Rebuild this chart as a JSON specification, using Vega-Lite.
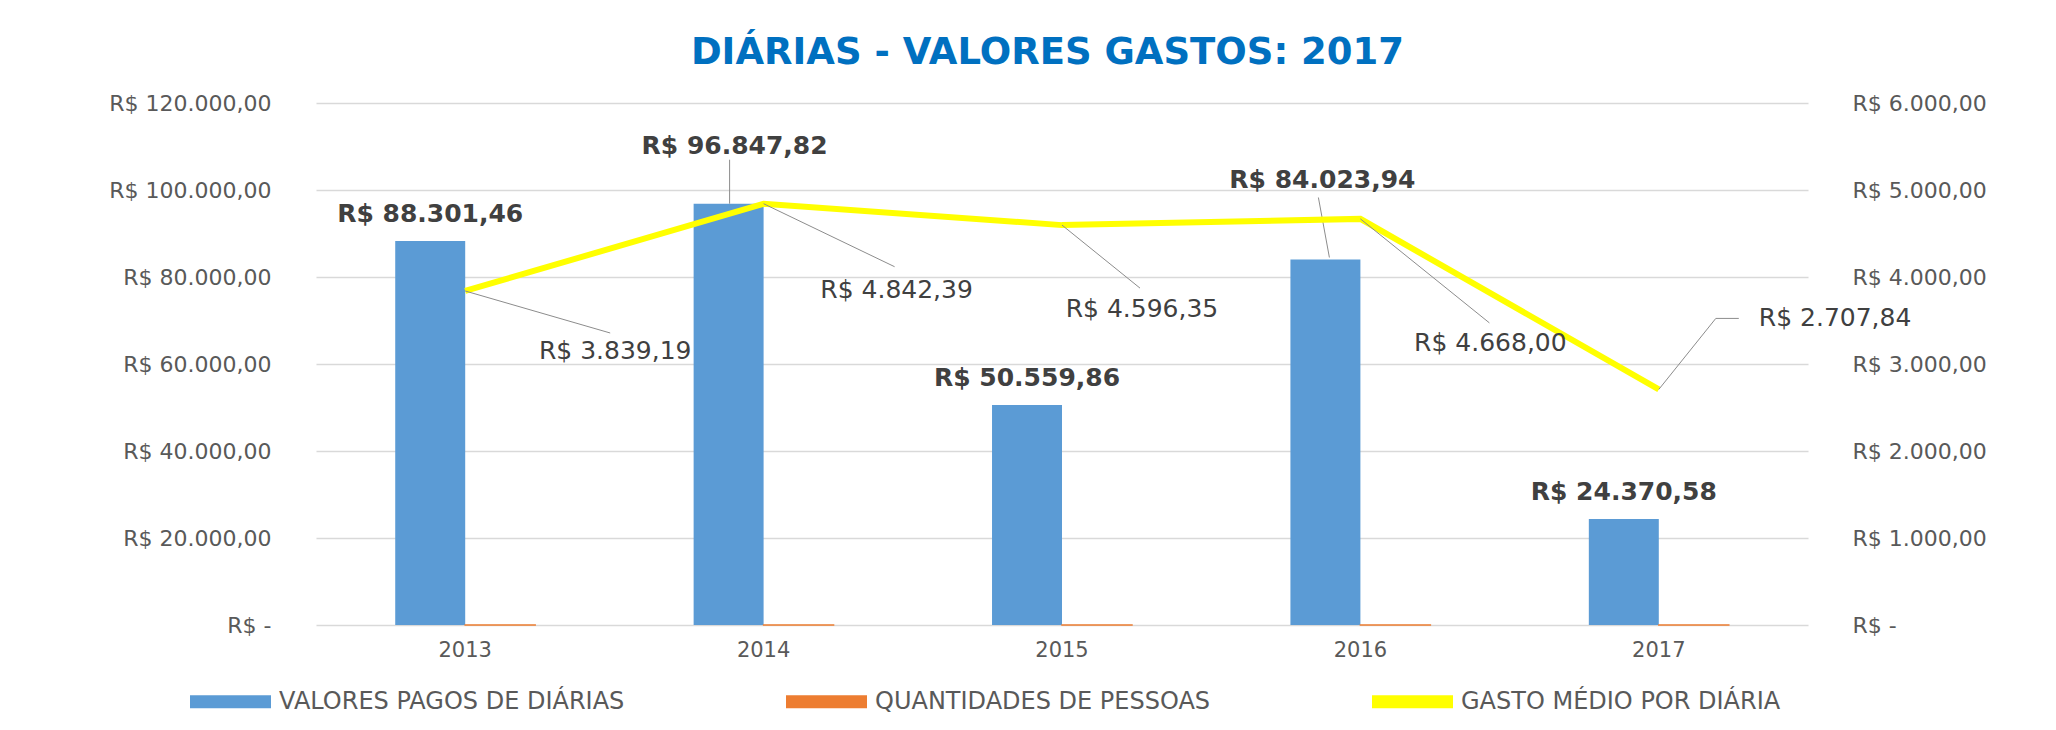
{
  "$schema": "https://vega.github.io/schema/vega-lite/v6.json",
  "width": 1492,
  "height": 522,
  "autosize": {"type": "none"},
  "padding": {"left": 316, "top": 103, "right": 248, "bottom": 105},
  "background": "white",
  "config": {
    "locale": {"number": {"decimal": ",", "thousands": ".", "grouping": [3], "currency": ["R$ ", ""]}},
    "view": {"stroke": null},
    "font": "DejaVu Sans",
    "axis": {"gridColor": "#D9D9D9", "gridWidth": 1.5, "labelColor": "#595959", "labelFontSize": 22, "labelFont": "DejaVu Sans", "ticks": false, "domain": false},
    "text": {"font": "DejaVu Sans", "color": "#404040"}
  },
  "title": {"text": "DIÁRIAS - VALORES GASTOS: 2017", "color": "#0070C0", "fontSize": 37, "font": "DejaVu Sans", "fontWeight": "bold", "anchor": "middle", "frame": "bounds", "offset": 20},
  "data": {"values": [
    {"ano": 2013, "serie": "VALORES PAGOS DE DIÁRIAS", "valor": 88301.46},
    {"ano": 2013, "serie": "QUANTIDADES DE PESSOAS", "valor": 23},
    {"ano": 2013, "serie": "GASTO MÉDIO POR DIÁRIA", "valor": 3839.19},
    {"ano": 2014, "serie": "VALORES PAGOS DE DIÁRIAS", "valor": 96847.82},
    {"ano": 2014, "serie": "QUANTIDADES DE PESSOAS", "valor": 20},
    {"ano": 2014, "serie": "GASTO MÉDIO POR DIÁRIA", "valor": 4842.39},
    {"ano": 2015, "serie": "VALORES PAGOS DE DIÁRIAS", "valor": 50559.86},
    {"ano": 2015, "serie": "QUANTIDADES DE PESSOAS", "valor": 11},
    {"ano": 2015, "serie": "GASTO MÉDIO POR DIÁRIA", "valor": 4596.35},
    {"ano": 2016, "serie": "VALORES PAGOS DE DIÁRIAS", "valor": 84023.94},
    {"ano": 2016, "serie": "QUANTIDADES DE PESSOAS", "valor": 18},
    {"ano": 2016, "serie": "GASTO MÉDIO POR DIÁRIA", "valor": 4668.00},
    {"ano": 2017, "serie": "VALORES PAGOS DE DIÁRIAS", "valor": 24370.58},
    {"ano": 2017, "serie": "QUANTIDADES DE PESSOAS", "valor": 9},
    {"ano": 2017, "serie": "GASTO MÉDIO POR DIÁRIA", "valor": 2707.84}
  ]},
  "resolve": {"scale": {"y": "independent"}},
  "layer": [
    {
      "transform": [{"filter": "datum.serie != 'GASTO MÉDIO POR DIÁRIA'"}],
      "encoding": {
        "x": {"field": "ano", "type": "nominal", "scale": {"paddingInner": 0.531, "paddingOuter": 0.2655},
              "axis": {"title": null, "labelAngle": 0, "labelPadding": 14, "grid": false, "labelFontSize": 21}},
        "y": {"field": "valor", "type": "quantitative", "scale": {"domain": [0, 120000]},
              "axis": {"title": null, "values": [0, 20000, 40000, 60000, 80000, 100000, 120000], "format": "$,.2f",
                       "labelExpr": "datum.value == 0 ? 'R$ -' : datum.label", "labelPadding": 45, "grid": true}}
      },
      "layer": [
        {
          "mark": {"type": "bar", "stroke": "#ED7D31"},
          "encoding": {
            "xOffset": {"field": "serie", "type": "nominal", "scale": {"domain": ["VALORES PAGOS DE DIÁRIAS", "QUANTIDADES DE PESSOAS"], "paddingInner": 0, "paddingOuter": 0}},
            "color": {"field": "serie", "type": "nominal",
                      "scale": {"domain": ["VALORES PAGOS DE DIÁRIAS", "QUANTIDADES DE PESSOAS", "GASTO MÉDIO POR DIÁRIA"], "range": ["#5B9BD5", "#ED7D31", "#FFFF00"]},
                      "legend": {"title": null, "orient": "none", "legendX": -126, "legendY": 558, "direction": "horizontal", "columns": 3,
                                 "symbolType": "M-1,-0.16L1,-0.16L1,0.16L-1,0.16Z", "symbolSize": 6561, "symbolStrokeWidth": 0,
                                 "labelFontSize": 24, "labelColor": "#595959", "labelFont": "DejaVu Sans", "labelOffset": 8, "columnPadding": 161, "labelLimit": 600}},
            "strokeWidth": {"condition": {"test": "datum.serie == 'QUANTIDADES DE PESSOAS'", "value": 1.5}, "value": 0}
          }
        },
        {
          "transform": [{"filter": "datum.serie == 'VALORES PAGOS DE DIÁRIAS' && (datum.ano == 2013 || datum.ano == 2015 || datum.ano == 2017)"}],
          "mark": {"type": "text", "fontSize": 25, "fontWeight": "bold", "dx": -35, "dy": -27},
          "encoding": {"text": {"field": "valor", "type": "quantitative", "format": "$,.2f"}}
        },
        {
          "transform": [{"filter": "datum.serie == 'VALORES PAGOS DE DIÁRIAS' && datum.ano == 2014"}],
          "mark": {"type": "text", "fontSize": 25, "fontWeight": "bold", "dx": -29, "dy": -58},
          "encoding": {"text": {"field": "valor", "type": "quantitative", "format": "$,.2f"}}
        },
        {
          "transform": [{"filter": "datum.serie == 'VALORES PAGOS DE DIÁRIAS' && datum.ano == 2016"}],
          "mark": {"type": "text", "fontSize": 25, "fontWeight": "bold", "dx": -38, "dy": -79},
          "encoding": {"text": {"field": "valor", "type": "quantitative", "format": "$,.2f"}}
        },
        {
          "transform": [{"filter": "datum.serie == 'VALORES PAGOS DE DIÁRIAS' && datum.ano == 2014"}],
          "mark": {"type": "rule", "color": "#8C8C8C", "strokeWidth": 1, "xOffset": -34, "yOffset": -44, "y2Offset": 0},
          "encoding": {"y2": {"field": "valor"}}
        },
        {
          "transform": [{"filter": "datum.serie == 'VALORES PAGOS DE DIÁRIAS' && datum.ano == 2016"}],
          "mark": {"type": "rule", "color": "#8C8C8C", "strokeWidth": 1, "xOffset": -42, "x2Offset": -31, "yOffset": -62, "y2Offset": -2},
          "encoding": {"x2": {"field": "ano", "bandPosition": 0.5}, "y2": {"field": "valor"}}
        }
      ]
    },
    {
      "transform": [{"filter": "datum.serie == 'GASTO MÉDIO POR DIÁRIA'"}],
      "encoding": {
        "x": {"field": "ano", "type": "nominal"},
        "y": {"field": "valor", "type": "quantitative", "scale": {"domain": [0, 6000]},
              "axis": {"title": null, "orient": "right", "values": [0, 1000, 2000, 3000, 4000, 5000, 6000], "format": "$,.2f",
                       "labelExpr": "datum.value == 0 ? 'R$ -' : datum.label", "labelPadding": 44, "grid": false}}
      },
      "layer": [
        {
          "mark": {"type": "line", "strokeWidth": 6, "strokeJoin": "miter"},
          "encoding": {"color": {"field": "serie", "type": "nominal", "legend": null}}
        },
        {
          "transform": [{"filter": "datum.ano == 2013"}],
          "mark": {"type": "rule", "color": "#8C8C8C", "strokeWidth": 1, "x2Offset": 145, "y2Offset": 42},
          "encoding": {"x2": {"field": "ano", "bandPosition": 0.5}, "y2": {"field": "valor"}}
        },
        {
          "transform": [{"filter": "datum.ano == 2014"}],
          "mark": {"type": "rule", "color": "#8C8C8C", "strokeWidth": 1, "x2Offset": 131, "y2Offset": 63},
          "encoding": {"x2": {"field": "ano", "bandPosition": 0.5}, "y2": {"field": "valor"}}
        },
        {
          "transform": [{"filter": "datum.ano == 2015"}],
          "mark": {"type": "rule", "color": "#8C8C8C", "strokeWidth": 1, "x2Offset": 78, "y2Offset": 63},
          "encoding": {"x2": {"field": "ano", "bandPosition": 0.5}, "y2": {"field": "valor"}}
        },
        {
          "transform": [{"filter": "datum.ano == 2016"}],
          "mark": {"type": "rule", "color": "#8C8C8C", "strokeWidth": 1, "x2Offset": 129, "y2Offset": 104},
          "encoding": {"x2": {"field": "ano", "bandPosition": 0.5}, "y2": {"field": "valor"}}
        },
        {
          "transform": [{"filter": "datum.ano == 2017"}],
          "mark": {"type": "rule", "color": "#8C8C8C", "strokeWidth": 1, "x2Offset": 57, "y2Offset": -71},
          "encoding": {"x2": {"field": "ano", "bandPosition": 0.5}, "y2": {"field": "valor"}}
        },
        {
          "transform": [{"filter": "datum.ano == 2017"}],
          "mark": {"type": "rule", "color": "#8C8C8C", "strokeWidth": 1, "xOffset": 57, "yOffset": -71, "x2Offset": 80, "y2Offset": -71},
          "encoding": {"x2": {"field": "ano", "bandPosition": 0.5}, "y2": {"field": "valor"}}
        },
        {
          "transform": [{"filter": "datum.ano == 2013"}],
          "mark": {"type": "text", "fontSize": 25, "dx": 150, "dy": 60},
          "encoding": {"text": {"field": "valor", "type": "quantitative", "format": "$,.2f"}}
        },
        {
          "transform": [{"filter": "datum.ano == 2014"}],
          "mark": {"type": "text", "fontSize": 25, "dx": 133, "dy": 86},
          "encoding": {"text": {"field": "valor", "type": "quantitative", "format": "$,.2f"}}
        },
        {
          "transform": [{"filter": "datum.ano == 2015"}],
          "mark": {"type": "text", "fontSize": 25, "dx": 80, "dy": 84},
          "encoding": {"text": {"field": "valor", "type": "quantitative", "format": "$,.2f"}}
        },
        {
          "transform": [{"filter": "datum.ano == 2016"}],
          "mark": {"type": "text", "fontSize": 25, "dx": 130, "dy": 124},
          "encoding": {"text": {"field": "valor", "type": "quantitative", "format": "$,.2f"}}
        },
        {
          "transform": [{"filter": "datum.ano == 2017"}],
          "mark": {"type": "text", "fontSize": 25, "align": "left", "dx": 100, "dy": -71},
          "encoding": {"text": {"field": "valor", "type": "quantitative", "format": "$,.2f"}}
        }
      ]
    }
  ]
}
